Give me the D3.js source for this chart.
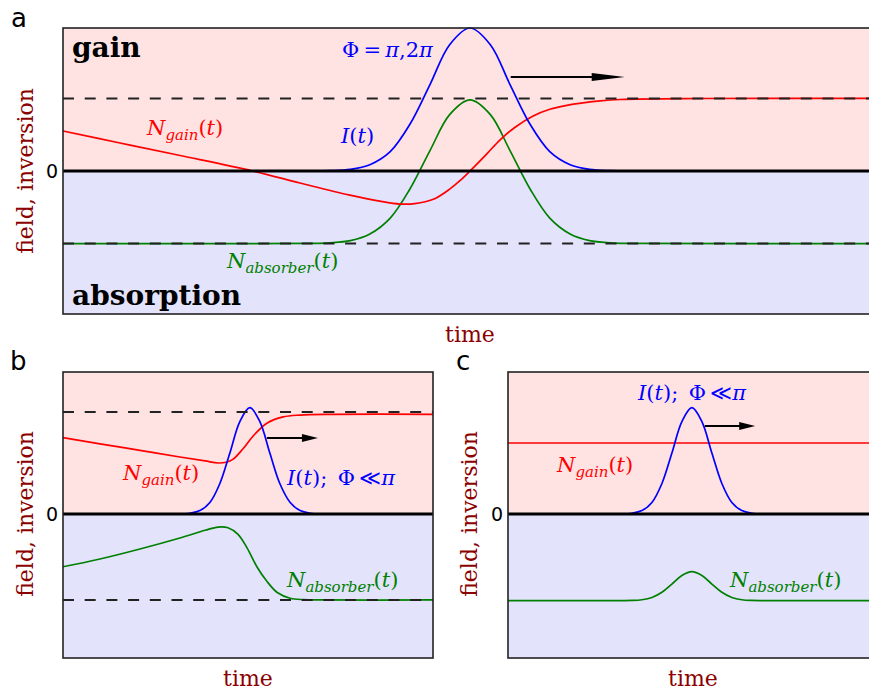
<!DOCTYPE html>
<html>
<head>
<meta charset="utf-8">
<script src="https://cdn.jsdelivr.net/npm/d3@7"></script>
<style>
  body { margin: 0; background: #fff; }
  svg { display: block; }
  .axis-title { font-family: "DejaVu Serif", serif; font-size: 22px; fill: #8b0000; }
  .math { font-family: "DejaVu Serif", serif; font-size: 21px; }
  .panel-tag { font-family: "DejaVu Sans", sans-serif; font-size: 26px; fill: #000; }
  .region { font-family: "DejaVu Serif", serif; font-size: 28px; font-weight: bold; fill: #000; }
</style>
</head>
<body>
<svg id="chart" width="869" height="691"></svg>
<script>
// ---- data (time 0..100 across each panel, inversion in panel units) ----

// panel a
const aGain = [[0, 0.551], [7.0, 0.386], [14.4, 0.213], [23.3, 0.0], [29.1, -0.165], [35.1, -0.33],
  [38.9, -0.415], [41.4, -0.455], [43.2, -0.45], [45.5, -0.39], [47.5, -0.25], [48.8, -0.13],
  [50.0, 0.0], [52.1, 0.24], [53.7, 0.43], [55.5, 0.6], [57.7, 0.755], [59.8, 0.85],
  [61.9, 0.905], [66.0, 0.965], [68.4, 0.985], [78.3, 0.999], [100, 1.0]];
const aAbsorber = [[0, -1.0], [30.3, -0.998], [32.8, -0.99], [35.3, -0.96], [37.7, -0.868], [40.2, -0.649],
  [42.6, -0.252], [45.1, 0.285], [47.5, 0.777], [50.0, 0.98], [52.5, 0.777], [54.9, 0.285],
  [57.4, -0.252], [59.8, -0.649], [62.3, -0.868], [64.7, -0.96], [67.2, -0.99], [69.7, -0.998], [100, -1.0]];
const aIntensity = [[30.3, 0.0], [32.8, 0.004], [35.3, 0.022], [37.7, 0.087], [40.2, 0.267], [42.6, 0.64], [45.1, 1.195],
  [47.5, 1.74], [50.0, 1.97], [52.5, 1.74], [54.9, 1.195], [57.4, 0.64], [59.8, 0.267],
  [62.3, 0.087], [64.7, 0.022], [67.2, 0.004], [69.7, 0.0]];
const aDashed = [1.0, -1.0];
const aArrow = [[55.0, 1.295], [69.0, 1.295]];

// panel b
const bGain = [[0, 0.748], [10.0, 0.688], [20.8, 0.624], [31.6, 0.559], [38.4, 0.52], [41.9, 0.5],
  [44.1, 0.507], [45.9, 0.535], [48.6, 0.637], [51.4, 0.765], [55.1, 0.89], [59.5, 0.952],
  [64.1, 0.97], [73.0, 0.977], [100, 0.977]];
const bAbsorber = [[0, -0.517], [10.0, -0.441], [20.8, -0.343], [31.6, -0.235], [38.4, -0.16], [41.9, -0.128],
  [44.6, -0.135], [47.3, -0.2], [49.7, -0.33], [52.4, -0.517], [55.1, -0.66], [57.9, -0.77], [61.4, -0.826],
  [65.0, -0.84], [70.0, -0.843], [100, -0.843]];
const bIntensity = [[31.6, 0.0], [34.3, 0.007], [37.0, 0.033], [39.7, 0.113], [42.4, 0.299], [45.1, 0.598], [47.8, 0.906],
  [50.5, 1.042], [53.2, 0.906], [55.9, 0.598], [58.6, 0.299], [61.4, 0.113], [64.1, 0.033], [66.8, 0.007], [69.5, 0.0]];
const bDashed = [1.0, -0.843];
const bArrow = [[55.1, 0.745], [68.9, 0.745]];

// panel c
const cGain = [[0, 0.696], [100, 0.696]];
const cAbsorber = [[0, -0.85], [25.0, -0.85], [33.5, -0.848], [36.2, -0.841], [38.9, -0.819], [41.6, -0.768], [44.3, -0.687],
  [47.0, -0.603], [49.7, -0.566], [52.4, -0.603], [55.1, -0.687], [57.8, -0.768], [60.5, -0.819],
  [63.2, -0.841], [65.9, -0.848], [75.0, -0.85], [100, -0.85]];
const cIntensity = [[30.8, 0.0], [33.5, 0.007], [36.2, 0.033], [38.9, 0.113], [41.6, 0.299], [44.3, 0.598], [47.0, 0.906],
  [49.7, 1.042], [52.4, 0.906], [55.1, 0.598], [57.8, 0.299], [60.5, 0.113], [63.2, 0.033], [65.9, 0.007], [68.6, 0.0]];
const cDashed = [];
const cArrow = [[53.2, 0.863], [66.8, 0.863]];

const colors = { gain: "#ff0000", absorber: "#008000", intensity: "#0000ff" };

const svg = d3.select("#chart");

function drawPanel(cfg) {
  const g = svg.append("g");

  const x = d3.scaleLinear().domain([0, 100]).range([cfg.left, cfg.right]);
  const y = d3.scaleLinear().domain(cfg.yDomain).range([cfg.bottom, cfg.top]);

  // gain / absorption backgrounds
  g.append("rect")
    .attr("x", x(0)).attr("y", y(cfg.yDomain[1]))
    .attr("width", x(100) - x(0)).attr("height", y(0) - y(cfg.yDomain[1]))
    .attr("fill", "#ffe3e3");
  g.append("rect")
    .attr("x", x(0)).attr("y", y(0))
    .attr("width", x(100) - x(0)).attr("height", y(cfg.yDomain[0]) - y(0))
    .attr("fill", "#e3e3fc");

  const line = d3.line()
    .x(d => x(d[0]))
    .y(d => y(d[1]))
    .curve(d3.curveCatmullRom.alpha(0.5));

  cfg.curves.forEach(c => {
    g.append("path")
      .datum(c.data)
      .attr("d", line)
      .attr("fill", "none")
      .attr("stroke", c.color)
      .attr("stroke-width", 1.7);
  });

  // saturation levels
  g.selectAll(".dashed")
    .data(cfg.dashed)
    .join("line")
      .attr("class", "dashed")
      .attr("x1", x(0)).attr("x2", x(100))
      .attr("y1", d => y(d)).attr("y2", d => y(d))
      .attr("stroke", "#222")
      .attr("stroke-width", 2)
      .attr("stroke-dasharray", "11,10.7");

  // zero line
  g.append("line")
    .attr("x1", x(0)).attr("x2", x(100))
    .attr("y1", y(0)).attr("y2", y(0))
    .attr("stroke", "#000")
    .attr("stroke-width", 3.2);

  // propagation arrow
  const a0 = cfg.arrow[0], a1 = cfg.arrow[1];
  const tipX = x(a1[0]), tipY = y(a1[1]);
  g.append("line")
    .attr("x1", x(a0[0])).attr("x2", tipX - cfg.headLen + 2)
    .attr("y1", y(a0[1])).attr("y2", tipY)
    .attr("stroke", "#000")
    .attr("stroke-width", 2);
  g.append("path")
    .attr("d", `M${tipX},${tipY} L${tipX - cfg.headLen},${tipY - 4} L${tipX - cfg.headLen},${tipY + 4} Z`)
    .attr("fill", "#000");

  // y axis: only the 0 tick
  const yAxis = d3.axisLeft(y).tickValues([0]).tickFormat(d3.format("d")).tickSize(0).tickPadding(5);
  const axisG = g.append("g")
    .attr("transform", `translate(${x(0)},0)`)
    .call(yAxis);
  axisG.select(".domain").remove();
  axisG.selectAll("text")
    .style("font-family", "'DejaVu Sans', sans-serif")
    .style("font-size", "19px")
    .attr("fill", "#000");

  // frame
  g.append("rect")
    .attr("x", x(0)).attr("y", cfg.top)
    .attr("width", x(100) - x(0)).attr("height", cfg.bottom - cfg.top)
    .attr("fill", "none")
    .attr("stroke", "#222")
    .attr("stroke-width", 1.6);

  // axis titles
  svg.append("text")
    .attr("class", "axis-title")
    .attr("transform", `translate(${cfg.yTitleX},${y(0)}) rotate(-90)`)
    .attr("text-anchor", "middle")
    .text("field, inversion");
  svg.append("text")
    .attr("class", "axis-title")
    .attr("x", (cfg.left + cfg.right) / 2)
    .attr("y", cfg.bottom + 28)
    .attr("text-anchor", "middle")
    .text("time");

  // panel tag
  svg.append("text")
    .attr("class", "panel-tag")
    .attr("x", cfg.tag.x).attr("y", cfg.tag.y)
    .text(cfg.tag.text);

  return g;
}

// math-style label helpers
function labelN(x, y, sub, color) {
  const t = svg.append("text").attr("class", "math").attr("x", x).attr("y", y).attr("fill", color);
  t.append("tspan").attr("font-style", "italic").text("N");
  t.append("tspan").attr("font-style", "italic").attr("font-size", "15px").attr("dy", 5).text(sub);
  t.append("tspan").attr("dy", -5).text("(");
  t.append("tspan").attr("font-style", "italic").text("t");
  t.append("tspan").text(")");
}
function labelI(x, y, color, suffix) {
  const t = svg.append("text").attr("class", "math").attr("x", x).attr("y", y).attr("fill", color);
  t.append("tspan").attr("font-style", "italic").text("I");
  t.append("tspan").text("(");
  t.append("tspan").attr("font-style", "italic").text("t");
  t.append("tspan").text(")");
  if (suffix) {
    t.append("tspan").text(";\u2002\u03A6\u2009\u226A");
    t.append("tspan").attr("font-style", "italic").text("\u03C0");
  }
}

// ---- panel a ----
drawPanel({
  left: 63, right: 877, top: 28, bottom: 314,
  yDomain: [-1.97, 1.97],
  curves: [
    { data: aAbsorber, color: colors.absorber },
    { data: aGain, color: colors.gain },
    { data: aIntensity, color: colors.intensity }
  ],
  dashed: aDashed, arrow: aArrow, headLen: 33,
  yTitleX: 33,
  tag: { x: 11, y: 27, text: "a" }
});
svg.append("text").attr("class", "region").attr("x", 72).attr("y", 57).text("gain");
svg.append("text").attr("class", "region").attr("x", 72).attr("y", 305).text("absorption");
labelN(147, 135, "gain", colors.gain);
labelN(227, 268, "absorber", colors.absorber);
labelI(341, 143, colors.intensity, false);
{
  const t = svg.append("text").attr("class", "math").attr("x", 342).attr("y", 57).attr("fill", colors.intensity);
  t.append("tspan").text("\u03A6\u2009=\u2009");
  t.append("tspan").attr("font-style", "italic").text("\u03C0");
  t.append("tspan").text(",2");
  t.append("tspan").attr("font-style", "italic").text("\u03C0");
}

// ---- panel b ----
drawPanel({
  left: 63, right: 433, top: 372, bottom: 658,
  yDomain: [-1.412, 1.392],
  curves: [
    { data: bAbsorber, color: colors.absorber },
    { data: bGain, color: colors.gain },
    { data: bIntensity, color: colors.intensity }
  ],
  dashed: bDashed, arrow: bArrow, headLen: 16,
  yTitleX: 33,
  tag: { x: 10, y: 370, text: "b" }
});
labelN(123, 480, "gain", colors.gain);
labelI(287, 485, colors.intensity, true);
labelN(287, 587, "absorber", colors.absorber);

// ---- panel c ----
drawPanel({
  left: 508, right: 878, top: 372, bottom: 658,
  yDomain: [-1.412, 1.392],
  curves: [
    { data: cAbsorber, color: colors.absorber },
    { data: cGain, color: colors.gain },
    { data: cIntensity, color: colors.intensity }
  ],
  dashed: cDashed, arrow: cArrow, headLen: 16,
  yTitleX: 477,
  tag: { x: 456, y: 370, text: "c" }
});
labelI(638, 400, colors.intensity, true);
labelN(557, 472, "gain", colors.gain);
labelN(730, 587, "absorber", colors.absorber);
</script>
</body>
</html>
